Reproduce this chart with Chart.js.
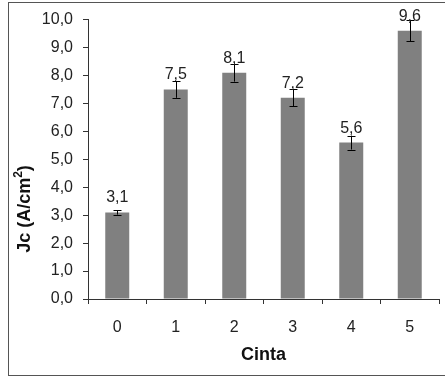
<!DOCTYPE html>
<html>
<head>
<meta charset="utf-8">
<script src="https://cdn.jsdelivr.net/npm/chart.js@4/dist/chart.umd.min.js"></script>
<style>
  html, body { margin: 0; padding: 0; background: #fff; }
  #wrap { width: 445px; height: 377px; position: relative; }
</style>
</head>
<body>
<div id="wrap"><canvas id="c" width="445" height="377"></canvas></div>
<script>
// Critical current density per tape sample
const categories = ['0', '1', '2', '3', '4', '5'];
const jcValues = [3.1, 7.5, 8.1, 7.2, 5.6, 9.6];
const jcErrors = [0.08, 0.3, 0.32, 0.3, 0.25, 0.38];
const yTicks = [0, 1, 2, 3, 4, 5, 6, 7, 8, 9, 10];

const FONT = '"Liberation Sans", Arial, sans-serif';
const fmt = v => v.toFixed(1).replace('.', ',');

// Outer frame around the figure
const framePlugin = {
  id: 'frame',
  afterDraw(chart) {
    const ctx = chart.ctx;
    ctx.save();
    ctx.strokeStyle = '#555';
    ctx.lineWidth = 1;
    ctx.strokeRect(8.5, 2.5, 460, 373);
    ctx.restore();
  }
};

// Symmetric error bars with caps
const errorBarPlugin = {
  id: 'errorBars',
  afterDatasetsDraw(chart) {
    const ctx = chart.ctx;
    const y = chart.scales.y;
    const meta = chart.getDatasetMeta(0);
    ctx.save();
    ctx.strokeStyle = '#000';
    ctx.lineWidth = 1;
    meta.data.forEach((bar, i) => {
      const x = Math.round(bar.x) + 0.5;
      const top = y.getPixelForValue(jcValues[i] + jcErrors[i]);
      const bot = y.getPixelForValue(jcValues[i] - jcErrors[i]);
      ctx.beginPath();
      ctx.moveTo(x, top); ctx.lineTo(x, bot);
      ctx.moveTo(x - 4, Math.round(top) + 0.5); ctx.lineTo(x + 4, Math.round(top) + 0.5);
      ctx.moveTo(x - 4, Math.round(bot) + 0.5); ctx.lineTo(x + 4, Math.round(bot) + 0.5);
      ctx.stroke();
    });
    ctx.restore();
  }
};

// Value labels above the bars and the rotated y-axis title
const labelPlugin = {
  id: 'valueLabels',
  afterDraw(chart) {
    const ctx = chart.ctx;
    const meta = chart.getDatasetMeta(0);
    ctx.save();
    ctx.fillStyle = '#222';
    ctx.font = '16px ' + FONT;
    ctx.textAlign = 'center';
    ctx.textBaseline = 'alphabetic';
    meta.data.forEach((bar, i) => {
      ctx.fillText(fmt(jcValues[i]), bar.x, bar.y - 10);
    });
    // y-axis title with superscript unit
    const area = chart.chartArea;
    ctx.translate(area.left - 63, area.bottom - 90);
    ctx.rotate(-Math.PI / 2);
    ctx.fillStyle = '#111';
    ctx.textAlign = 'left';
    ctx.textBaseline = 'middle';
    const main = 'Jc (A/cm';
    ctx.font = 'bold 18px ' + FONT;
    const wMain = ctx.measureText(main).width;
    ctx.font = 'bold 12px ' + FONT;
    const wSup = ctx.measureText('2').width;
    ctx.font = 'bold 18px ' + FONT;
    const wEnd = ctx.measureText(')').width;
    const total = wMain + wSup + wEnd;
    let x0 = -total / 2;
    ctx.fillText(main, x0, 0);
    ctx.font = 'bold 12px ' + FONT;
    ctx.fillText('2', x0 + wMain, -6);
    ctx.font = 'bold 18px ' + FONT;
    ctx.fillText(')', x0 + wMain + wSup, 0);
    ctx.restore();
  }
};

new Chart(document.getElementById('c'), {
  type: 'bar',
  data: {
    labels: categories,
    datasets: [{
      data: jcValues,
      backgroundColor: '#808080',
      borderWidth: 0,
      categoryPercentage: 1,
      barPercentage: 0.41
    }]
  },
  options: {
    responsive: false,
    animation: false,
    devicePixelRatio: 1,
    layout: { padding: { top: 19, right: 6, left: 0, bottom: 0 } },
    plugins: {
      legend: { display: false },
      tooltip: { enabled: false }
    },
    scales: {
      x: {
        grid: { display: true, offset: true, drawOnChartArea: false, tickLength: 5, color: '#333', tickColor: '#333' },
        border: { display: true, color: '#333', width: 1 },
        ticks: { color: '#222', font: { family: FONT, size: 16 }, padding: 14, maxRotation: 0 },
        title: { display: true, text: 'Cinta', color: '#111', font: { family: FONT, size: 18, weight: 'bold' }, padding: { top: 0, bottom: 11 } },
        afterFit(scale) { scale.height = 78; }
      },
      y: {
        min: 0,
        max: 10,
        afterBuildTicks(scale) { scale.ticks = yTicks.map(v => ({ value: v })); },
        grid: { display: true, drawOnChartArea: false, tickLength: 5, color: '#333', tickColor: '#333' },
        border: { display: true, color: '#333', width: 1 },
        ticks: { color: '#222', font: { family: FONT, size: 16 }, padding: 10, callback: v => fmt(v) },
        afterFit(scale) { scale.width = 88; }
      }
    }
  },
  plugins: [framePlugin, errorBarPlugin, labelPlugin]
});
</script>
</body>
</html>
